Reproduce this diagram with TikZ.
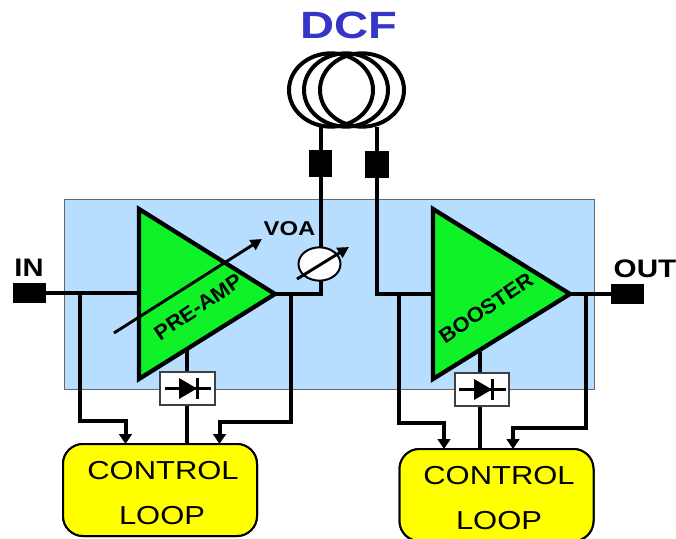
\documentclass[tikz,border=0pt]{standalone}
\usepackage{graphicx}
\usepackage{fontspec}
\setmainfont{Liberation Sans}
\usetikzlibrary{shapes.geometric,arrows.meta}
\definecolor{panelblue}{HTML}{B8DEFF}
\definecolor{ampgreen}{HTML}{0FF227}
\definecolor{loopyellow}{HTML}{FFFF00}
\definecolor{dcfblue}{HTML}{3535C8}
\newcommand{\wtxt}[3][1.19]{{\fontsize{#2}{#2}\selectfont\scalebox{#1}[1]{#3}}}
\tikzset{
  x=0.75pt,y=-0.75pt,
  wire/.style={line width=3pt,line cap=butt,line join=miter},
  fiber/.style={line width=3pt},
  tap/.style={wire,-{Triangle[length=7.5pt,width=9.5pt]}},
  coil/.style={ellipse,draw,line width=3pt,minimum width=63pt,minimum height=55pt,inner sep=0pt,outer sep=0pt},
  plug/.style={fill=black,draw=none,inner sep=0pt,outer sep=0pt},
  amp/.style={draw=black,fill=ampgreen,line width=3.2pt,line join=miter},
  loopbox/.style={draw=black,fill=loopyellow,line width=1.5pt,rounded corners=15pt,minimum width=145.5pt,minimum height=69pt,inner sep=0pt,outer sep=0pt},
  detbox/.style={draw=black!75,fill=white,line width=1.3pt,minimum width=41pt,minimum height=25pt,inner sep=0pt,outer sep=0pt},
  lbl/.style={inner sep=0pt,outer sep=0pt,text=black,font=\bfseries},
  looplbl/.style={inner sep=0pt,outer sep=0pt,text=black},
  vgain/.style={line width=2.2pt,-{Triangle[length=8.5pt,width=8.5pt]}},
}
\begin{document}
\begin{tikzpicture}
\clip (0,0) rectangle (676,539);
\fill[white] (0,0) rectangle (676,539);
% panel
\node[draw=black!60,fill=panelblue,line width=0.9pt,minimum width=398pt,minimum height=142pt,inner sep=0pt,outer sep=0pt] (panel) at (329.5,294.5) {};
% title and coil
\node[inner sep=0pt,text=dcfblue,font=\bfseries] (title) at (349,25) {\wtxt[1.24]{28.5}{DCF}};
\node[coil] (coilA) at (331,90) {};
\node[coil] (coilB) at (346,90) {};
\node[coil] (coilC) at (362,90) {};
% plugs
\node[plug,minimum width=17.5pt,minimum height=20pt] (plugL) at (320.5,163.5) {};
\node[plug,minimum width=17.5pt,minimum height=20pt] (plugR) at (377,164.5) {};
\node[plug,minimum width=25pt,minimum height=15pt] (plugIn) at (29.5,293) {};
\node[plug,minimum width=25pt,minimum height=15pt] (plugOut) at (627.5,294) {};
% amplifiers
\coordinate (a1) at (139,209); \coordinate (a2) at (139,379); \coordinate (a3) at (275,294);
\coordinate (b1) at (433,209); \coordinate (b2) at (433,379); \coordinate (b3) at (570,294);
\coordinate (a4) at (139,293); \coordinate (b4) at (433,294);
% VOA
\node[ellipse,draw=black,fill=white,line width=1.5pt,minimum width=31.5pt,minimum height=25pt,inner sep=0pt,outer sep=0pt] (voa) at (319.5,264) {};
% detectors, loops
\node[detbox] (detA) at (187.5,388.5) {};
\node[detbox] (detB) at (482,389.5) {};
\node[loopbox] (loopA) at (160,490) {};
\node[loopbox] (loopB) at (496.5,495) {};
% wires
\draw[wire] (plugIn.east) -- (a4);
\draw[wire] (a3) -- (plugL.south |- a3) -- (plugL.south |- voa.south);
\draw[fiber] (plugL.south |- voa.north) -- (plugL.south);
\draw[fiber] (plugL.north) -- (plugL.north |- coilA.south);
\draw[fiber] (plugR.north) -- (plugR.north |- coilC.south);
\draw[wire] (plugR.south) -- (plugR.south |- b4) -- (b4);
\draw[wire] (b3) -- (plugOut.west);
% taps
\coordinate (ta) at (80,293); \coordinate (tb) at (291,294);
\coordinate (tc) at (399,294); \coordinate (td) at (586,294);
\draw[tap] (ta) -- (80,421) -- (125.5,421) -- (125.5,444);
\draw[tap] (tb) -- (291,421.5) -- (219.5,421.5) -- (219.5,444);
\draw[tap] (tc) -- (399,422.5) -- (444,422.5) -- (444,449);
\draw[tap] (td) -- (586,427.5) -- (513,427.5) -- (513,449);
\draw[wire] (186.5,345) -- (186.5,372);
\draw[wire] (186.5,405) -- (186.5,444);
\draw[wire] (480,345) -- (480,373);
\draw[wire] (480,406) -- (480,449);
% amp bodies
\draw[amp] (a1) -- (a2) -- (a3) -- cycle;
\draw[amp] (b1) -- (b2) -- (b3) -- cycle;
% redraw loops on top
\node[loopbox] at (loopA) {};
\node[loopbox] at (loopB) {};
% detectors on top
\node[detbox] at (detA) {};
\node[detbox] at (detB) {};
% diode A
\draw[line width=1.6pt] (165,388.5) -- (211,388.5);
\fill (179,378) -- (197,388.5) -- (179,399) -- cycle;
\draw[line width=1.6pt] (197.5,378) -- (197.5,399);
% diode B
\draw[line width=1.6pt] (459,389.5) -- (506,389.5);
\fill (474,379) -- (492,389.5) -- (474,400) -- cycle;
\draw[line width=1.6pt] (492.5,379) -- (492.5,400);
% gain arrows
\draw[vgain] (114,333) -- (262,239);
\draw[vgain] (297,279) -- (349,247);
% labels
\node[lbl] (lIn) at (29,267.5) {\wtxt[1.15]{19}{IN}};
\node[lbl] (lOut) at (645,269) {\wtxt[1.17]{19}{OUT}};
\node[lbl] (lVoa) at (289.5,229) {\wtxt{15}{VOA}};
\node[lbl,rotate=34] (lPre) at (198,307) {\wtxt[1.06]{15.5}{PRE-AMP}};
\node[lbl,rotate=34] (lBoost) at (486,308) {\wtxt[1.06]{15.5}{BOOSTER}};
\node[looplbl] (lA1) at (163,471) {\wtxt{19.5}{CONTROL}};
\node[looplbl] (lA2) at (162,516) {\wtxt{19.5}{LOOP}};
\node[looplbl] (lB1) at (499,476) {\wtxt{19.5}{CONTROL}};
\node[looplbl] (lB2) at (499,521) {\wtxt{19.5}{LOOP}};
\end{tikzpicture}
\end{document}
